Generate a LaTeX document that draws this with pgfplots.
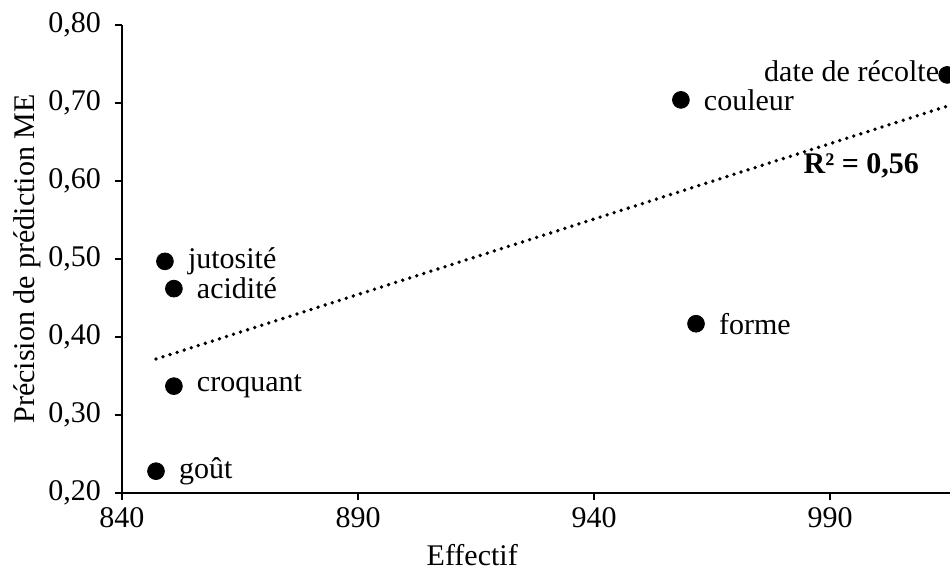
\documentclass[border=0pt]{standalone}
\usepackage{fontspec}
\setmainfont{Liberation Serif}
\usepackage{pgfplots}
\usepackage{pgfplotstable}
\pgfplotsset{compat=1.18}
\usetikzlibrary{calc}

% effectif, precision (sorted by effectif)
\pgfplotstableread{
x y lab
847.2 0.228 goût
849.1 0.497 jutosité
851.0 0.337 croquant
851.0 0.462 acidité
958.4 0.704 couleur
961.6 0.417 forme
1014.8 0.736 {date de récolte}
}\data
\pgfplotstableread{
x y lab
847.2 0.228 goût
851.0 0.337 croquant
851.0 0.462 acidité
849.1 0.497 jutosité
961.6 0.417 forme
958.4 0.704 couleur
}\right
\pgfplotstableread{
x y lab
1014.8 0.736 {date de récolte}
}\left

\begin{document}
\begin{tikzpicture}[font=\fontsize{15}{18}\selectfont]
\begin{axis}[
  scale only axis, width=414pt, height=234pt,
  xmin=840, xmax=1015.4, ymin=0.2, ymax=0.8,
  axis x line*=bottom, axis y line*=left,
  xtick={840,890,940,990},
  ytick={0.2,0.3,0.4,0.5,0.6,0.7,0.8},
  tick align=outside, major tick length=3.5pt,
  axis line style={line width=1.3pt},
  every tick/.style={line width=1.3pt,black},
  /pgf/number format/assume math mode=true,
  xticklabel style={/pgf/number format/1000 sep={}},
  yticklabel style={xshift=-3.5pt,/pgf/number format/.cd,fixed,fixed zerofill,precision=2,use comma},
  xlabel={Effectif},
  ylabel={Précision de prédiction ME},
  every axis x label/.style={at={(axis description cs:0.423,0)},yshift=-31pt,anchor=center},
  every axis y label/.style={at={(axis description cs:0,0.5)},xshift=-47.5pt,rotate=90,anchor=center},
  clip=false,
]
\addplot[black,line width=1.9pt,line cap=round,dash pattern=on 0pt off 3.7pt]
  table[x=x,y={create col/linear regression={y=y}}] {\data};
\addplot[only marks,mark=*,mark size=4.2pt,black,
  point meta=explicit symbolic,nodes near coords,
  nodes near coords style={anchor=west,xshift=8pt,text=black}]
  table[x=x,y=y,meta=lab] {\right};
\addplot[only marks,mark=*,mark size=4.2pt,black,
  point meta=explicit symbolic,nodes near coords,
  nodes near coords style={anchor=east,xshift=-0.5pt,yshift=2pt,text=black}]
  table[x=x,y=y,meta=lab] {\left};
\node[font=\fontsize{15}{18}\selectfont\bfseries] at (axis cs:996.6,0.62) {R² = 0,56};
\coordinate (bl) at (rel axis cs:0,0);
\coordinate (tr) at (rel axis cs:1,1);
\end{axis}
\pgfresetboundingbox
\path ($(bl)+(-61pt,-40.5pt)$) rectangle ($(tr)+(0,12.5pt)$);
\end{tikzpicture}
\end{document}
